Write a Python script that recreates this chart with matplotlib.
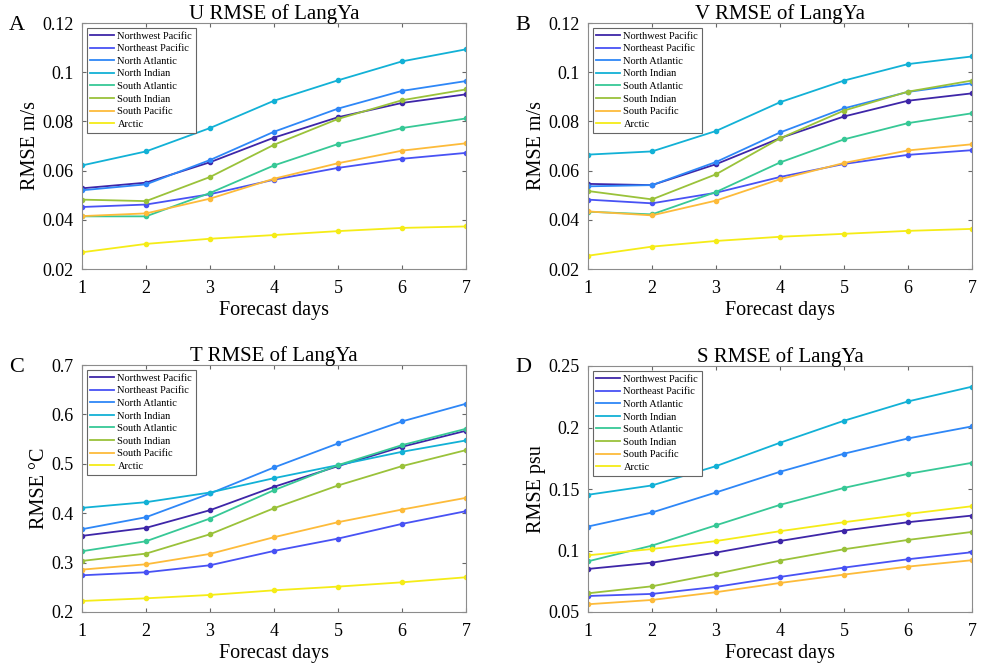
import matplotlib
matplotlib.use("Agg")
import matplotlib.pyplot as plt

plt.rcParams['font.family'] = ['Liberation Serif', 'DejaVu Serif']

days = [1, 2, 3, 4, 5, 6, 7]
regions = ["Northwest Pacific", "Northeast Pacific", "North Atlantic", "North Indian",
           "South Atlantic", "South Indian", "South Pacific", "Arctic"]
colors = ["#3e26a8", "#4852f4", "#2e87f7", "#12b1d6", "#37c896", "#9ac23a", "#fdbb3a", "#f5ec17"]

# U RMSE (m/s)
u_rmse = [
    [0.0528, 0.0551, 0.0634, 0.0734, 0.0817, 0.0875, 0.0910],
    [0.0452, 0.0462, 0.0504, 0.0563, 0.0611, 0.0648, 0.0672],
    [0.0520, 0.0544, 0.0643, 0.0758, 0.0852, 0.0924, 0.0964],
    [0.0621, 0.0678, 0.0773, 0.0884, 0.0967, 0.1044, 0.1093],
    [0.0414, 0.0414, 0.0509, 0.0621, 0.0708, 0.0773, 0.0812],
    [0.0482, 0.0476, 0.0574, 0.0705, 0.0810, 0.0886, 0.0930],
    [0.0415, 0.0426, 0.0486, 0.0567, 0.0630, 0.0681, 0.0711],
    [0.0268, 0.0302, 0.0323, 0.0338, 0.0354, 0.0367, 0.0373],
]
# V RMSE (m/s)
v_rmse = [
    [0.0546, 0.0541, 0.0626, 0.0732, 0.0820, 0.0884, 0.0914],
    [0.0482, 0.0467, 0.0510, 0.0574, 0.0627, 0.0664, 0.0683],
    [0.0536, 0.0541, 0.0635, 0.0755, 0.0853, 0.0920, 0.0955],
    [0.0665, 0.0678, 0.0761, 0.0878, 0.0966, 0.1033, 0.1064],
    [0.0433, 0.0422, 0.0513, 0.0633, 0.0727, 0.0793, 0.0833],
    [0.0517, 0.0483, 0.0585, 0.0731, 0.0844, 0.0921, 0.0966],
    [0.0434, 0.0418, 0.0478, 0.0565, 0.0631, 0.0682, 0.0707],
    [0.0254, 0.0291, 0.0314, 0.0331, 0.0343, 0.0355, 0.0363],
]
# T RMSE (degC)
t_rmse = [
    [0.3541, 0.3703, 0.4061, 0.4534, 0.4953, 0.5345, 0.5669],
    [0.2743, 0.2804, 0.2946, 0.3236, 0.3486, 0.3784, 0.4041],
    [0.3676, 0.3919, 0.4399, 0.4926, 0.5412, 0.5858, 0.6216],
    [0.4108, 0.4223, 0.4419, 0.4709, 0.4973, 0.5243, 0.5473],
    [0.3230, 0.3432, 0.3892, 0.4466, 0.4973, 0.5378, 0.5709],
    [0.3034, 0.3182, 0.3574, 0.4101, 0.4561, 0.4953, 0.5277],
    [0.2858, 0.2966, 0.3176, 0.3514, 0.3818, 0.4074, 0.4311],
    [0.2223, 0.2277, 0.2345, 0.2439, 0.2514, 0.2601, 0.2703],
]
# S RMSE (psu)
s_rmse = [
    [0.0850, 0.0901, 0.0983, 0.1077, 0.1162, 0.1230, 0.1284],
    [0.0630, 0.0647, 0.0704, 0.0785, 0.0861, 0.0929, 0.0986],
    [0.1195, 0.1309, 0.1472, 0.1640, 0.1787, 0.1911, 0.2009],
    [0.1453, 0.1529, 0.1686, 0.1876, 0.2055, 0.2212, 0.2332],
    [0.0912, 0.1040, 0.1205, 0.1371, 0.1509, 0.1623, 0.1713],
    [0.0652, 0.0709, 0.0810, 0.0918, 0.1010, 0.1086, 0.1151],
    [0.0563, 0.0598, 0.0661, 0.0736, 0.0804, 0.0869, 0.0921],
    [0.0961, 0.1012, 0.1077, 0.1157, 0.1230, 0.1297, 0.1360],
]

panels = [
    ("A", "U RMSE of LangYa", "RMSE m/s", u_rmse, [0.02, 0.12],
     [0.02, 0.04, 0.06, 0.08, 0.1, 0.12], ["0.02", "0.04", "0.06", "0.08", "0.1", "0.12"]),
    ("B", "V RMSE of LangYa", "RMSE m/s", v_rmse, [0.02, 0.12],
     [0.02, 0.04, 0.06, 0.08, 0.1, 0.12], ["0.02", "0.04", "0.06", "0.08", "0.1", "0.12"]),
    ("C", "T RMSE of LangYa", "RMSE \u00b0C", t_rmse, [0.2, 0.7],
     [0.2, 0.3, 0.4, 0.5, 0.6, 0.7], ["0.2", "0.3", "0.4", "0.5", "0.6", "0.7"]),
    ("D", "S RMSE of LangYa", "RMSE psu", s_rmse, [0.05, 0.25],
     [0.05, 0.1, 0.15, 0.2, 0.25], ["0.05", "0.1", "0.15", "0.2", "0.25"]),
]

W, H = 981, 671
# axes boxes in pixels: left, top, right, bottom
boxes = [(82, 23, 466, 269), (588, 23, 972, 269),
         (82, 365, 466, 612), (588, 366, 972, 612)]

fig = plt.figure(figsize=(W / 100, H / 100), dpi=100)

for (letter, title, ylab, data, ylim, yt, ytl), (l, t, r, b) in zip(panels, boxes):
    ax = fig.add_axes([l / W, 1 - b / H, (r - l) / W, (b - t) / H])
    for vals, name, c in zip(data, regions, colors):
        ax.plot(days, vals, color=c, lw=1.3, label=name)
        ax.plot(days, vals, ls='none', color=c, marker='o', ms=3)
    ax.set_xlim(1, 7)
    ax.set_ylim(*ylim)
    ax.set_xticks(days)
    ax.set_yticks(yt)
    ax.set_yticklabels(ytl)
    ax.tick_params(direction='in', top=True, right=True, labelsize=13, length=3,
                   color='0.4')
    ax.tick_params(axis='x', pad=8)
    ax.tick_params(axis='y', pad=6)
    for s in ax.spines.values():
        s.set_color('0.55')
        s.set_linewidth(0.8)
    ax.set_title(title, fontsize=15, pad=3)
    ax.set_xlabel("Forecast days", fontsize=14.5, labelpad=3)
    ax.set_ylabel(ylab, fontsize=14.5, labelpad=2)
    leg = ax.legend(loc='upper left', fontsize=7.5, handlelength=2.3, labelspacing=0.32,
                    borderpad=0.35, handletextpad=0.3, borderaxespad=0.45, fancybox=False,
                    edgecolor='0.4', framealpha=1)
    leg.get_frame().set_linewidth(0.8)
    fig.text((l - 73) / W, 1 - (t + 2) / H, letter, fontsize=16, va='center', ha='left')

fig.savefig("out.png", dpi=100)
